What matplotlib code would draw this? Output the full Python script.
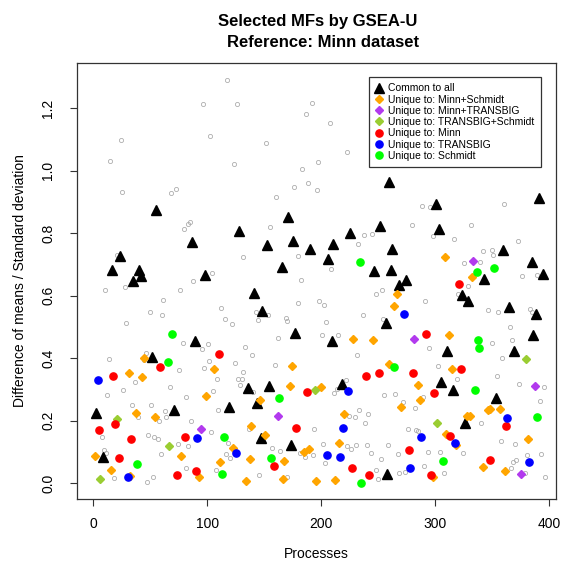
"""Selected MFs by GSEA-U, reference Minn dataset (R-style scatter)."""

import matplotlib
matplotlib.use('Agg')
import matplotlib.pyplot as plt
from matplotlib.lines import Line2D

plt.rcParams['font.family'] = ['Liberation Sans', 'DejaVu Sans']

# ── data: (process index, difference of means / sd) ──
other_x = [117.2, 96.1, 126.3, 102.3, 24.1, 14.2, 123.3, 25.0, 68.3, 72.2, 84.4, 83.0, 79.2, 20.4,
           104.0, 87.1, 27.4, 131.5, 155.0, 179.8, 183.0, 188.0, 186.3, 176.3, 160.2, 151.2, 182.0,
           191.6, 207.4, 222.3, 197.4, 196.2, 237.2, 244.2, 232.2, 208.3, 374.2, 288.4, 295.2, 360.4,
           279.4, 331.4, 298.3, 316.2, 372.4, 342.2, 350.2, 350.6, 339.3, 325.0, 376.5, 389.1, 328.5,
           10.1, 76.2, 61.3, 49.3, 60.1, 28.3, 112.2, 115.2, 121.3, 78.3, 100.5, 95.3, 46.1, 44.3,
           13.3, 101.4, 124.2, 97.3, 75.3, 108.2, 127.0, 130.4, 129.0, 36.2, 67.2, 26.2, 105.2, 12.1,
           81.2, 34.1, 50.2, 63.0, 63.9, 39.1, 57.2, 85.3, 109.3, 103.2, 48.1, 53.1, 56.4, 7.2, 82.7,
           74.2, 117.8, 9.2, 11.2, 59.3, 116.1, 119.8, 80.9, 107.3, 18.3, 52.0, 47.0, 142.4, 144.4,
           153.5, 169.0, 169.9, 179.3, 161.7, 133.0, 139.2, 159.8, 131.0, 140.0, 136.8, 157.0, 164.0,
           145.3, 170.2, 248.3, 253.3, 198.2, 202.1, 204.1, 236.3, 254.2, 200.6, 214.4, 231.3, 213.5,
           211.4, 221.7, 255.3, 265.0, 233.4, 241.3, 224.6, 229.3, 238.1, 193.3, 201.5, 222.3, 230.2,
           226.1, 240.1, 258.3, 243.4, 267.3, 181.6, 192.7, 185.4, 203.0, 252.4, 248.0, 249.8, 268.2,
           320.0, 291.3, 346.1, 355.4, 383.5, 384.7, 365.4, 367.2, 349.6, 294.3, 358.4, 302.2, 319.1,
           354.3, 373.3, 395.3, 392.3, 271.5, 282.3, 289.6, 340.2, 276.4, 283.4, 285.2, 357.5, 370.3,
           293.4, 304.2, 324.4, 380.3, 393.2, 368.0, 371.2, 290.2, 366.3, 273.2, 307.5, 378.6, 396.4]
other_y = [1.291, 1.214, 1.213, 1.112, 1.099, 1.032, 1.022, 0.933, 0.929, 0.941, 0.837, 0.829, 0.814, 0.730,
           0.671, 0.647, 0.628, 0.725, 0.819, 0.727, 1.005, 0.961, 1.182, 0.948, 0.917, 1.089, 0.650,
           1.217, 1.152, 1.060, 1.027, 0.939, 0.794, 0.797, 0.766, 0.684, 1.210, 0.888, 0.885, 0.893,
           0.827, 0.825, 0.792, 0.782, 0.775, 0.743, 0.746, 0.731, 0.709, 0.705, 0.663, 0.666, 0.630,
           0.617, 0.618, 0.586, 0.548, 0.537, 0.513, 0.561, 0.524, 0.508, 0.448, 0.445, 0.429, 0.417, 0.394,
           0.398, 0.391, 0.384, 0.369, 0.361, 0.332, 0.333, 0.333, 0.315, 0.324, 0.308, 0.298, 0.295, 0.282,
           0.276, 0.250, 0.250, 0.231, 0.212, 0.212, 0.200, 0.199, 0.235, 0.163, 0.155, 0.148, 0.140, 0.146, 0.120,
           0.125, 0.127, 0.105, 0.095, 0.092, 0.093, 0.079, 0.048, 0.043, 0.016, 0.019, 0.003, 0.547, 0.521,
           0.538, 0.527, 0.519, 0.575, 0.464, 0.436, 0.411, 0.377, 0.356, 0.290, 0.174, 0.113, 0.101,
           0.027, 0.019, 0.605, 0.619, 0.582, 0.571, 0.516, 0.537, 0.526, 0.475, 0.475, 0.411, 0.301,
           0.287, 0.330, 0.283, 0.286, 0.234, 0.221, 0.213, 0.210, 0.191, 0.173, 0.125, 0.118, 0.123,
           0.109, 0.121, 0.121, 0.095, 0.094, 0.097, 0.089, 0.082, 0.065, 0.076, 0.042, 0.013, 0.033,
           0.605, 0.583, 0.555, 0.549, 0.557, 0.549, 0.500, 0.458, 0.447, 0.432, 0.399, 0.375, 0.333,
           0.344, 0.316, 0.308, 0.263, 0.259, 0.241, 0.276, 0.191, 0.174, 0.171, 0.166, 0.135, 0.126,
           0.098, 0.100, 0.097, 0.091, 0.094, 0.067, 0.073, 0.054, 0.048, 0.034, 0.031, 0.031, 0.020]

common_x = [2.5, 8.1, 16.2, 23.0, 35.0, 40.0, 41.4, 51.4, 54.9, 71.0, 86.2, 89.1, 98.2, 119.2, 127.5,
            135.4, 141.2, 143.3, 147.0, 148.2, 152.0, 154.1, 165.2, 171.0, 173.1, 175.2, 177.2, 190.0,
            206.2, 209.4, 210.3, 218.2, 225.2, 246.0, 251.5, 256.5, 257.4, 259.2, 261.0, 262.0, 268.5,
            274.4, 300.4, 303.3, 305.4, 310.4, 315.3, 323.3, 326.4, 329.1, 343.1, 353.1, 359.3, 364.5,
            369.5, 377.4, 385.3, 386.1, 388.5, 391.4, 394.4]
common_y = [0.225, 0.084, 0.681, 0.726, 0.646, 0.681, 0.664, 0.405, 0.875, 0.234, 0.772, 0.454, 0.667,
            0.244, 0.807, 0.305, 0.609, 0.255, 0.143, 0.550, 0.762, 0.310, 0.693, 0.853, 0.121, 0.775,
            0.479, 0.748, 0.716, 0.454, 0.764, 0.318, 0.800, 0.679, 0.823, 0.513, 0.030, 0.963, 0.682,
            0.749, 0.635, 0.649, 0.894, 0.814, 0.322, 0.423, 0.298, 0.601, 0.193, 0.583, 0.653, 0.271,
            0.746, 0.563, 0.424, 1.050, 0.708, 0.474, 0.542, 0.914, 0.669]

minn_schmidt_x = [1.0, 15.1, 31.2, 32.3, 37.3, 42.3, 44.1, 54.0, 77.1, 92.3, 98.8, 106.1, 111.1, 122.2,
                  134.2, 137.4, 138.0, 146.4, 150.6, 166.1, 167.5, 172.2, 174.3, 184.5, 189.2, 195.1,
                  199.7, 212.3, 215.3, 220.2, 228.1, 245.1, 259.7, 264.1, 266.2, 270.0, 284.6, 286.4,
                  297.8, 308.6, 309.2, 312.4, 314.5, 318.5, 327.9, 330.5, 332.5, 341.7, 346.1, 348.1,
                  356.6, 361.5, 381.5]
minn_schmidt_y = [0.086, 0.043, 0.351, 0.023, 0.223, 0.338, 0.401, 0.211, 0.086, 0.020, 0.278, 0.364, 0.068,
                  0.113, 0.005, 0.076, 0.181, 0.267, 0.155, 0.013, 0.070, 0.311, 0.376, 0.098, 0.109, 0.006,
                  0.307, 0.010, 0.127, 0.222, 0.461, 0.457, 0.382, 0.566, 0.605, 0.243, 0.314, 0.266,
                  0.020, 0.725, 0.157, 0.473, 0.366, 0.121, 0.214, 0.215, 0.661, 0.050, 0.235, 0.236,
                  0.236, 0.037, 0.142]

minn_transbig_x = [94.1, 162.0, 281.4, 333.2, 375.6, 387.4]
minn_transbig_y = [0.174, 0.214, 0.462, 0.711, 0.030, 0.310]

transbig_schmidt_x = [5.7, 20.9, 66.0, 194.5, 301.3, 379.4]
transbig_schmidt_y = [0.012, 0.204, 0.118, 0.297, 0.193, 0.396]

minn_x = [5.1, 17.1, 19.1, 22.1, 33.2, 58.4, 73.3, 80.0, 90.3, 110.2, 158.2, 178.1, 187.2, 227.2,
          239.2, 242.1, 250.4, 277.3, 280.2, 292.2, 296.3, 299.2, 313.3, 321.2, 322.4, 348.4, 362.4]
minn_y = [0.169, 0.343, 0.188, 0.079, 0.140, 0.371, 0.026, 0.148, 0.037, 0.412, 0.053, 0.176, 0.290, 0.049,
          0.343, 0.027, 0.351, 0.107, 0.353, 0.476, 0.026, 0.288, 0.149, 0.637, 0.364, 0.073, 0.183]

transbig_x = [4.0, 30.0, 91.1, 125.1, 205.3, 216.4, 219.0, 223.4, 272.3, 278.1, 287.2, 317.4, 363.3, 382.3]
transbig_y = [0.329, 0.019, 0.145, 0.097, 0.091, 0.082, 0.175, 0.296, 0.542, 0.048, 0.147, 0.128, 0.209, 0.067]

schmidt_x = [37.9, 65.4, 69.2, 113.1, 114.3, 156.1, 162.9, 234.3, 235.1, 263.5, 306.6, 335.2, 336.4,
             337.3, 338.4, 351.4, 389.4]
schmidt_y = [0.061, 0.387, 0.477, 0.030, 0.146, 0.080, 0.271, 0.707, 0.001, 0.371, 0.070, 0.299, 0.677,
             0.457, 0.433, 0.687, 0.210]

x_ticks = [0, 100, 200, 300, 400]
y_ticks = [0.0, 0.2, 0.4, 0.6, 0.8, 1.0, 1.2]

# (label, x, y, marker, size, colour)
groups = [
    ('Common to all', common_x, common_y, '^', 6.8, 'black'),
    ('Unique to: Minn+Schmidt', minn_schmidt_x, minn_schmidt_y, 'D', 4.3, '#FFA500'),
    ('Unique to: Minn+TRANSBIG', minn_transbig_x, minn_transbig_y, 'D', 4.3, '#B23AEE'),
    ('Unique to: TRANSBIG+Schmidt', transbig_schmidt_x, transbig_schmidt_y, 'D', 4.3, '#9ACD32'),
    ('Unique to: Minn', minn_x, minn_y, 'o', 5.2, '#FF0000'),
    ('Unique to: TRANSBIG', transbig_x, transbig_y, 'o', 5.2, '#0000FF'),
    ('Unique to: Schmidt', schmidt_x, schmidt_y, 'o', 5.2, '#00FF00'),
]

fig = plt.figure(figsize=(5.63, 5.65), dpi=100)
W, H = 563, 565
ax = fig.add_axes([76.7 / W, (H - 498.7) / H, 479.3 / W, 435.4 / H])

ax.plot(other_x, other_y, 'o', ms=3.0, mfc='none', mec='#ADADAD', mew=0.6, ls='none')
handles = []
for label, xs, ys, mk, ms, col in groups:
    ax.plot(xs, ys, mk, ms=ms, color=col, ls='none')
    handles.append(Line2D([], [], marker=mk, ms=ms, color=col, ls='none', label=label))

ax.set_xlim(-14.75, 406.1)
ax.set_ylim(-0.0503, 1.344)
ax.set_xticks(x_ticks)
ax.set_yticks(y_ticks)
ax.set_yticklabels([f'{v:.1f}' for v in y_ticks], rotation=90, va='center')
ax.tick_params(direction='out', length=5, width=0.8, labelsize=10, color='#333333')
ax.tick_params(axis='x', pad=8)
ax.tick_params(axis='y', pad=10.5)
for sp in ax.spines.values():
    sp.set_linewidth(0.9)
    sp.set_color('#333333')

ax.set_xlabel('Processes', fontsize=10)
ax.xaxis.set_label_coords(0.5, -0.112)
ax.set_ylabel('Difference of means / Standard deviation', fontsize=10)
ax.yaxis.set_label_coords(-0.104, 0.5)

fig.text(318 / W, 1 - 21.5 / H, 'Selected MFs by GSEA-U', ha='center', va='center',
         fontsize=12, fontweight='bold')
fig.text(323 / W, 1 - 42.5 / H, 'Reference: Minn dataset', ha='center', va='center',
         fontsize=12, fontweight='bold')

leg = ax.legend(handles=handles, loc='upper right', bbox_to_anchor=(0.9687, 0.9685),
                borderaxespad=0, fontsize=7.5, frameon=True, fancybox=False,
                framealpha=1, edgecolor='#333333', handlelength=0.8, handletextpad=0.5,
                labelspacing=0.12, borderpad=0.6, numpoints=1)
leg.get_frame().set_linewidth(0.9)

fig.savefig('out.png', dpi=100)
